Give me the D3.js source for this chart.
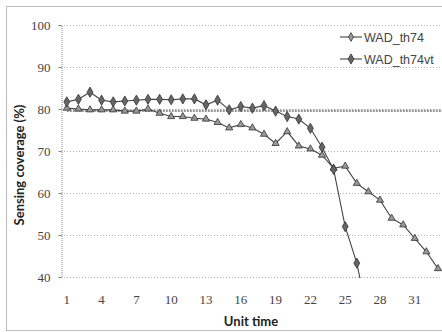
<!DOCTYPE html>
<html lang="en">
<head>
<meta charset="utf-8">
<title>Sensing coverage</title>
<script src="https://d3js.org/d3.v7.min.js"></script>
<style>
  body { margin: 0; background: #fff; }
  svg { display: block; }
</style>
</head>
<body>
<script>
  // values
  const unitTimes = d3.range(1, 34)
  const th74 = [80.2, 80.0, 79.8, 79.8, 79.8, 79.5, 79.5, 80.0, 79.0, 78.2,
                78.2, 77.8, 77.6, 76.8, 75.5, 76.3, 75.5, 74.0, 71.8, 74.6,
                71.2, 70.5, 69.0, 65.9, 66.4, 62.3, 60.3, 58.3, 54.0, 52.4,
                49.2, 46.0, 42.0]
  const th74vt = [81.7, 82.3, 84.0, 82.1, 81.7, 81.9, 82.1, 82.3, 82.3, 82.2,
                  82.4, 82.4, 81.0, 82.1, 79.8, 80.6, 80.2, 80.8, 79.5, 78.2,
                  77.6, 75.4, 70.9, 65.6, 52.0, 43.3, 30.0]
  const thresholdValue = 79.6
  const xTickLabels = [1, 4, 7, 10, 13, 16, 19, 22, 25, 28, 31]
  const yTicks = [40, 50, 60, 70, 80, 90, 100]

  const W = 442, H = 332
  const plot = { left: 61, top: 25, right: 61 + 33 * 11.6, bottom: 277 }

  const svg = d3.select('body').append('svg')
      .attr('width', W)
      .attr('height', H)

  // chart border
  svg.append('rect')
      .attr('x', 6.5).attr('y', 6.5)
      .attr('width', 440).attr('height', 324)
      .attr('fill', 'none')
      .attr('stroke', '#777')
      .attr('stroke-dasharray', '1,1')

  const x = d3.scaleBand()
      .domain(unitTimes)
      .range([plot.left, plot.right])
  const cx = d => x(d) + x.bandwidth() / 2

  const y = d3.scaleLinear()
      .domain([40, 100])
      .range([plot.bottom, plot.top])

  svg.append('clipPath').attr('id', 'clip')
    .append('rect')
      .attr('x', plot.left).attr('y', plot.top)
      .attr('width', plot.right - plot.left)
      .attr('height', plot.bottom - plot.top + 1)

  // gridlines
  svg.append('g')
    .selectAll('line')
    .data(yTicks)
    .join('line')
      .attr('x1', plot.left).attr('x2', plot.right)
      .attr('y1', d => y(d) + 0.5).attr('y2', d => y(d) + 0.5)
      .attr('stroke', '#aaa')
      .attr('stroke-dasharray', '1,2')

  // y axis
  const yAxis = svg.append('g')
      .attr('transform', `translate(${plot.left + 0.5},0)`)
      .call(d3.axisLeft(y).tickValues(yTicks).tickSize(3).tickPadding(8))
  yAxis.select('.domain').attr('stroke', '#888').attr('stroke-dasharray', '1,1')
  yAxis.selectAll('.tick line').attr('stroke', '#888')
  yAxis.selectAll('text')
      .attr('font-family', '"Liberation Serif", serif')
      .attr('font-size', 13)
      .attr('fill', '#444')

  // x axis labels
  const xAxis = svg.append('g')
      .attr('transform', `translate(0,${plot.bottom + 10})`)
      .call(d3.axisBottom(x).tickValues(xTickLabels).tickSize(0).tickPadding(8))
  xAxis.select('.domain').remove()
  xAxis.selectAll('text')
      .attr('font-family', '"Liberation Serif", serif')
      .attr('font-size', 13)
      .attr('fill', '#444')

  // axis titles
  svg.append('text')
      .attr('transform', `translate(24,${(plot.top + plot.bottom) / 2 + 14}) rotate(-90)`)
      .attr('text-anchor', 'middle')
      .attr('font-family', 'Lato, sans-serif')
      .attr('font-weight', 'bold')
      .attr('font-size', 13)
      .attr('fill', '#222')
      .text('Sensing coverage (%)')

  svg.append('text')
      .attr('x', 251).attr('y', 326)
      .attr('text-anchor', 'middle')
      .attr('font-family', 'Lato, sans-serif')
      .attr('font-weight', 'bold')
      .attr('font-size', 13)
      .attr('fill', '#222')
      .text('Unit time')

  const g = svg.append('g').attr('clip-path', 'url(#clip)')

  // threshold line
  g.append('line')
      .attr('x1', cx(1)).attr('x2', plot.right)
      .attr('y1', y(thresholdValue)).attr('y2', y(thresholdValue))
      .attr('stroke', '#999')
      .attr('stroke-width', 2.5)
      .attr('stroke-dasharray', '2,1')

  const line = d3.line()
      .x((d, i) => cx(unitTimes[i]))
      .y(d => y(d))

  const series = [
    { name: 'WAD_th74', values: th74, symbol: d3.symbolTriangle, size: 22, fill: '#999' },
    { name: 'WAD_th74vt', values: th74vt, symbol: d3.symbolDiamond, size: 30, fill: '#666' }
  ]

  series.forEach(s => {
    g.append('path')
        .datum(s.values)
        .attr('d', line)
        .attr('fill', 'none')
        .attr('stroke', '#444')
        .attr('stroke-width', 1.1)

    g.selectAll(null)
        .data(s.values)
        .join('path')
        .attr('transform', (d, i) => `translate(${cx(unitTimes[i])},${y(d)})`)
        .attr('d', d3.symbol().type(s.symbol).size(s.size))
        .attr('fill', s.fill)
        .attr('stroke', '#333')
        .attr('stroke-width', 0.8)
  })

  // legend
  const legend = svg.append('g')
    .selectAll('g')
    .data(series)
    .join('g')
      .attr('transform', (d, i) => `translate(340,${37 + i * 22})`)
  legend.append('line')
      .attr('x1', 0).attr('x2', 22)
      .attr('stroke', '#444')
      .attr('stroke-width', 1.1)
  legend.append('path')
      .attr('transform', 'translate(11,0)')
      .attr('d', d => d3.symbol().type(d3.symbolDiamond).size(d.size)())
      .attr('fill', d => d.fill)
      .attr('stroke', '#333')
      .attr('stroke-width', 0.8)
  legend.append('text')
      .attr('x', 24).attr('y', 4.5)
      .attr('font-family', '"Liberation Sans", sans-serif')
      .attr('font-size', 12.5)
      .attr('fill', '#444')
      .text(d => d.name)
</script>
</body>
</html>
